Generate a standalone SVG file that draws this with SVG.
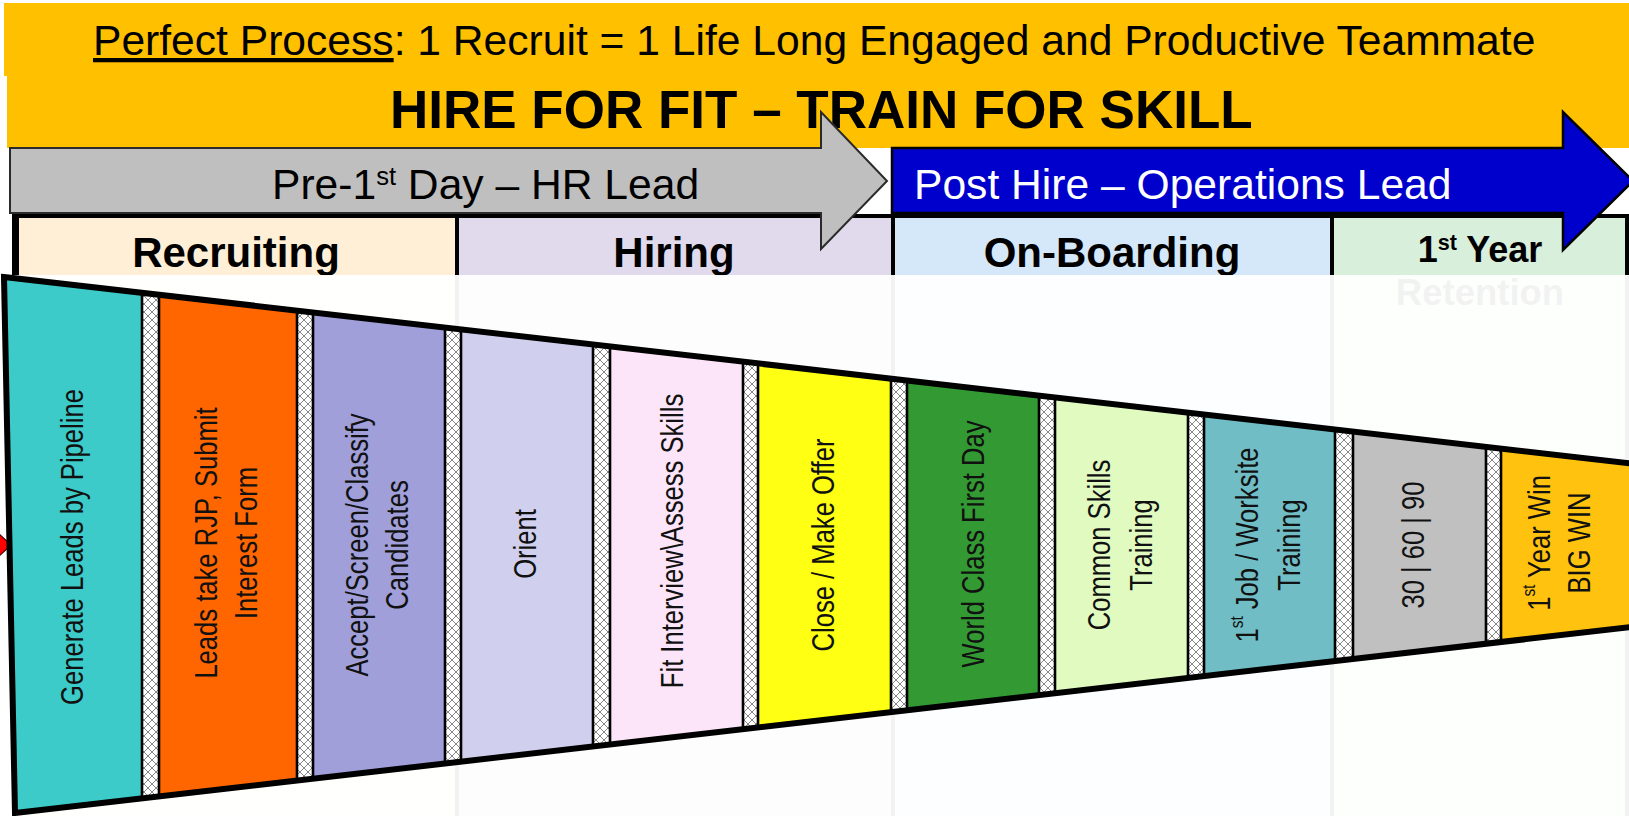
<svg xmlns="http://www.w3.org/2000/svg" width="1629" height="816" viewBox="0 0 1629 816">
  <defs>
    <style>
      .sans { font-family: "Liberation Sans", Arial, "Noto Sans", sans-serif; }
      .phase { font-family: "Liberation Sans", Arial, sans-serif; font-weight: bold; text-anchor: middle; fill: #000; }
      .cell-border { stroke: #000; stroke-width: 4; }
      .step-label { font-family: "Liberation Sans", Arial, sans-serif; font-size: 32px; text-anchor: middle; dominant-baseline: central; fill: #111; }
      .col-edge { stroke: #000; stroke-width: 2.6; }
      .divider { fill: url(#hatch); }
    </style>
    <pattern id="hatch" width="8" height="8" patternUnits="userSpaceOnUse">
      <rect width="8" height="8" fill="#ffffff"/>
      <path d="M0,0 L8,8 M8,0 L0,8" stroke="#6a6a6a" stroke-width="0.8"/>
    </pattern>
    <clipPath id="funnelClip">
      <polygon points="4,277 1640,464.5 1640,626 15,813"/>
    </clipPath>
  </defs>

  <!-- page background -->
  <rect width="1629" height="816" fill="#ffffff"/>

  <!-- headline band -->
  <g id="headline">
    <rect x="4" y="3" width="1625" height="73" fill="#FFC000"/>
    <rect x="7" y="75" width="1622" height="73" fill="#FFC000"/>
    <text class="sans" x="93" y="55" font-size="42.6" fill="#000"><tspan text-decoration="underline">Perfect Process</tspan>: 1 Recruit = 1 Life Long Engaged and Productive Teammate</text>
    <text class="sans" x="390" y="128" font-size="53" font-weight="bold" fill="#000">HIRE FOR FIT – TRAIN FOR SKILL</text>
  </g>

  <!-- phase header cells (tall, faded below the title row) -->
  <g id="phase-headers">
    <rect x="15" y="216" width="442" height="620" fill="#FFEFD6"/>
    <rect x="457" y="216" width="436" height="620" fill="#E1DAEC"/>
    <rect x="893" y="216" width="439" height="620" fill="#D4E8FA"/>
    <rect x="1332" y="216" width="295" height="620" fill="#D8EFDB"/>
    <line class="cell-border" x1="12" y1="216" x2="1629" y2="216"/>
    <line x1="15.5" y1="214" x2="15.5" y2="830" stroke="#000" stroke-width="7"/>
    <line class="cell-border" x1="457" y1="214" x2="457" y2="830"/>
    <line class="cell-border" x1="893" y1="214" x2="893" y2="830"/>
    <line class="cell-border" x1="1332" y1="214" x2="1332" y2="830"/>
    <line class="cell-border" x1="1627" y1="214" x2="1627" y2="830"/>
    <text class="phase" x="236" y="267" font-size="42">Recruiting</text>
    <text class="phase" x="674" y="267" font-size="42">Hiring</text>
    <text class="phase" x="1112" y="267" font-size="42">On-Boarding</text>
    <text class="phase" x="1480" y="262" font-size="36">1<tspan baseline-shift="super" font-size="60%">st</tspan> Year</text>
    <text class="phase" x="1480" y="305" font-size="36.5">Retention</text>
    <!-- white veil over the lower part of the header cells -->
    <rect x="0" y="275" width="1629" height="541" fill="#ffffff" fill-opacity="0.95"/>
  </g>

  <!-- lead banners -->
  <g id="banner-hr">
    <polygon points="10,148 821,148 821,112 887,181 821,249 821,213 10,213" fill="#BFBFBF" stroke="#2a2a2a" stroke-width="2"/>
    <text class="sans" x="272" y="199" font-size="42.6" fill="#000">Pre-1<tspan baseline-shift="super" font-size="60%">st</tspan> Day – HR Lead</text>
  </g>
  <g id="banner-ops">
    <polygon points="892,148 1563,148 1563,112 1633,181 1563,250 1563,213 892,213" fill="#0000CC" stroke="#000" stroke-width="2.5"/>
    <text class="sans" x="914" y="199" font-size="42.6" fill="#ffffff">Post Hire – Operations Lead</text>
  </g>

  <!-- entry pointer on the funnel's mouth -->
  <g id="connectors">
    <polygon points="-4,531 11,545 -4,559" fill="#FF0000" stroke="#3a0000" stroke-width="1.2"/>
  </g>

  <!-- funnel of process steps -->
  <g id="funnel">
    <g clip-path="url(#funnelClip)">
      <rect x="0" y="250" width="142" height="600" fill="#3CCBC8"/>
      <rect class="divider" x="142" y="250" width="17" height="600"/>
      <rect x="159" y="250" width="138" height="600" fill="#FF6600"/>
      <rect class="divider" x="297" y="250" width="16" height="600"/>
      <rect x="313" y="250" width="132" height="600" fill="#A09FDA"/>
      <rect class="divider" x="445" y="250" width="16" height="600"/>
      <rect x="461" y="250" width="132" height="600" fill="#D0D0EE"/>
      <rect class="divider" x="593" y="250" width="17" height="600"/>
      <rect x="610" y="250" width="133" height="600" fill="#FCE5F8"/>
      <rect class="divider" x="743" y="250" width="15" height="600"/>
      <rect x="758" y="250" width="133" height="600" fill="#FFFF14"/>
      <rect class="divider" x="891" y="250" width="16" height="600"/>
      <rect x="907" y="250" width="132" height="600" fill="#339933"/>
      <rect class="divider" x="1039" y="250" width="16" height="600"/>
      <rect x="1055" y="250" width="133" height="600" fill="#E0FAC0"/>
      <rect class="divider" x="1188" y="250" width="16" height="600"/>
      <rect x="1204" y="250" width="131" height="600" fill="#70BDC5"/>
      <rect class="divider" x="1335" y="250" width="18" height="600"/>
      <rect x="1353" y="250" width="133" height="600" fill="#C0C0C0"/>
      <rect class="divider" x="1486" y="250" width="15" height="600"/>
      <rect x="1501" y="250" width="140" height="600" fill="#FFC20E"/>
      <g class="col-edge">
        <line x1="142" y1="250" x2="142" y2="850"/><line x1="159" y1="250" x2="159" y2="850"/>
        <line x1="297" y1="250" x2="297" y2="850"/><line x1="313" y1="250" x2="313" y2="850"/>
        <line x1="445" y1="250" x2="445" y2="850"/><line x1="461" y1="250" x2="461" y2="850"/>
        <line x1="593" y1="250" x2="593" y2="850"/><line x1="610" y1="250" x2="610" y2="850"/>
        <line x1="743" y1="250" x2="743" y2="850"/><line x1="758" y1="250" x2="758" y2="850"/>
        <line x1="891" y1="250" x2="891" y2="850"/><line x1="907" y1="250" x2="907" y2="850"/>
        <line x1="1039" y1="250" x2="1039" y2="850"/><line x1="1055" y1="250" x2="1055" y2="850"/>
        <line x1="1188" y1="250" x2="1188" y2="850"/><line x1="1204" y1="250" x2="1204" y2="850"/>
        <line x1="1335" y1="250" x2="1335" y2="850"/><line x1="1353" y1="250" x2="1353" y2="850"/>
        <line x1="1486" y1="250" x2="1486" y2="850"/><line x1="1501" y1="250" x2="1501" y2="850"/>
      </g>
    </g>
    <polygon points="4,277 1640,464.5 1640,626 15,813" fill="none" stroke="#000" stroke-width="6" stroke-linejoin="miter"/>
  </g>

  <!-- step labels -->
  <g id="step-generate-leads"><text class="step-label" transform="translate(72,547) rotate(-90) scale(0.8,1)">Generate Leads by Pipeline</text></g>
  <g id="step-rjp"><text class="step-label" transform="translate(226,543) rotate(-90) scale(0.8,1)"><tspan x="0" y="-20">Leads take RJP, Submit</tspan><tspan x="0" y="20">Interest Form</tspan></text></g>
  <g id="step-screen"><text class="step-label" transform="translate(377,545) rotate(-90) scale(0.8,1)"><tspan x="0" y="-20">Accept/Screen/Classify</tspan><tspan x="0" y="20">Candidates</tspan></text></g>
  <g id="step-orient"><text class="step-label" transform="translate(525,544) rotate(-90) scale(0.8,1)">Orient</text></g>
  <g id="step-fit-interview"><text class="step-label" transform="translate(672,541) rotate(-90) scale(0.8,1)">Fit Interview\Assess Skills</text></g>
  <g id="step-offer"><text class="step-label" transform="translate(823,545) rotate(-90) scale(0.8,1)">Close / Make Offer</text></g>
  <g id="step-first-day"><text class="step-label" transform="translate(973,544) rotate(-90) scale(0.8,1)">World Class First Day</text></g>
  <g id="step-common-skills"><text class="step-label" transform="translate(1120,545) rotate(-90) scale(0.8,1)"><tspan x="0" y="-21">Common Skills</tspan><tspan x="0" y="21">Training</tspan></text></g>
  <g id="step-worksite"><text class="step-label" transform="translate(1268,545) rotate(-90) scale(0.8,1)"><tspan x="0" y="-21">1<tspan baseline-shift="super" font-size="60%">st</tspan> Job / Worksite</tspan><tspan x="0" y="21">Training</tspan></text></g>
  <g id="step-30-60-90"><text class="step-label" transform="translate(1413,545) rotate(-90) scale(0.8,1)">30 | 60 | 90</text></g>
  <g id="step-big-win"><text class="step-label" transform="translate(1559,543) rotate(-90) scale(0.8,1)"><tspan x="0" y="-20">1<tspan baseline-shift="super" font-size="60%">st</tspan> Year Win</tspan><tspan x="0" y="20">BIG WIN</tspan></text></g>
</svg>
